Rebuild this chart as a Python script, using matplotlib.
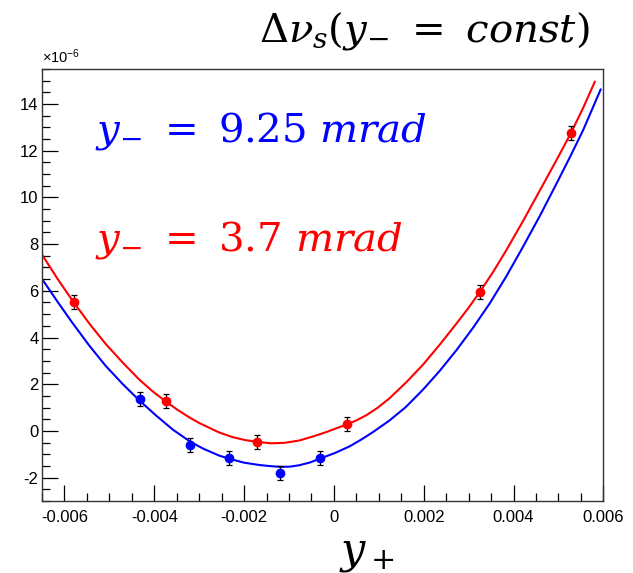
import matplotlib
matplotlib.use('Agg')
import matplotlib.pyplot as plt
from matplotlib.ticker import MultipleLocator, FuncFormatter

# measured points (delta nu_s in units of 1e-6)
y_plus_red = [-0.00578, -0.00374, -0.00172, 0.00029, 0.00325, 0.00528]
dnu_red = [5.50, 1.27, -0.48, 0.28, 5.94, 12.76]
err_red = [0.3, 0.3, 0.3, 0.3, 0.3, 0.3]

y_plus_blue = [-0.00432, -0.00321, -0.00233, -0.00119, -0.00030]
dnu_blue = [1.35, -0.61, -1.18, -1.80, -1.18]
err_blue = [0.3, 0.3, 0.3, 0.3, 0.3]

# fitted curves
fit_x_red = [-0.00649, -0.00615, -0.00580, -0.00544, -0.00508, -0.00470, -0.00433,
             -0.00404, -0.00375, -0.00348, -0.00322, -0.00299, -0.00255, -0.00225,
             -0.00198, -0.00171, -0.00140, -0.00110, -0.00077, -0.00047, -0.00017,
             0.00005, 0.00028, 0.00050, 0.00072, 0.00098, 0.00124, 0.00161,
             0.00199, 0.00236, 0.00273, 0.00299, 0.00325, 0.00355, 0.00384,
             0.00421, 0.00459, 0.00493, 0.00528, 0.00555, 0.00581]
fit_y_red = [7.52, 6.50, 5.52, 4.58, 3.72, 2.92, 2.19,
             1.70, 1.27, 0.90, 0.58, 0.33, -0.07, -0.27,
             -0.39, -0.47, -0.53, -0.51, -0.41, -0.24, -0.05,
             0.11, 0.27, 0.45, 0.67, 1.00, 1.40, 2.08,
             2.85, 3.70, 4.60, 5.25, 5.95, 6.82, 7.74,
             8.98, 10.31, 11.50, 12.76, 13.83, 14.95]

fit_x_blue = [-0.00649, -0.00615, -0.00582, -0.00545, -0.00508, -0.00470, -0.00433,
              -0.00396, -0.00359, -0.00320, -0.00290, -0.00255, -0.00233, -0.00200,
              -0.00166, -0.00140, -0.00119, -0.00098, -0.00077, -0.00053, -0.00030,
              0.00003, 0.00035, 0.00061, 0.00087, 0.00124, 0.00160, 0.00199,
              0.00236, 0.00273, 0.00310, 0.00347, 0.00384, 0.00421, 0.00459,
              0.00496, 0.00525, 0.00555, 0.00594]
fit_y_blue = [6.48, 5.52, 4.62, 3.66, 2.78, 2.00, 1.30,
              0.66, 0.06, -0.46, -0.77, -1.06, -1.19, -1.36,
              -1.46, -1.51, -1.54, -1.53, -1.47, -1.35, -1.18,
              -0.94, -0.66, -0.37, -0.05, 0.45, 1.02, 1.78,
              2.58, 3.46, 4.42, 5.46, 6.62, 7.88, 9.22,
              10.60, 11.70, 12.88, 14.62]

plt.rcParams['font.family'] = 'Liberation Sans'
plt.rcParams['mathtext.fontset'] = 'dejavuserif'
plt.rcParams['axes.unicode_minus'] = False

fig = plt.figure(figsize=(6.33, 5.73), dpi=100)
ax = fig.add_axes([0.0664, 0.1257, 0.8867, 0.7539])

ax.plot(fit_x_red, fit_y_red, color='#ff0000', lw=1.5, solid_joinstyle='round')
ax.plot(fit_x_blue, fit_y_blue, color='#0000ff', lw=1.5, solid_joinstyle='round')

ax.errorbar(y_plus_red, dnu_red, yerr=err_red, fmt='none', ecolor='black',
            elinewidth=0.9, capsize=2, capthick=0.9)
ax.errorbar(y_plus_blue, dnu_blue, yerr=err_blue, fmt='none', ecolor='black',
            elinewidth=0.9, capsize=2, capthick=0.9)
ax.plot(y_plus_red, dnu_red, 'o', color='#ff0000', ms=6, mec='#ff0000')
ax.plot(y_plus_blue, dnu_blue, 'o', color='#0000ff', ms=6, mec='#0000ff')

ax.set_xlim(-0.0065, 0.006)
ax.set_ylim(-3, 15.5)

ax.xaxis.set_major_locator(MultipleLocator(0.002))
ax.xaxis.set_minor_locator(MultipleLocator(0.0005))
ax.yaxis.set_major_locator(MultipleLocator(2))
ax.yaxis.set_minor_locator(MultipleLocator(0.5))
fmt = FuncFormatter(lambda v, p: '%g' % round(v, 6))
ax.xaxis.set_major_formatter(fmt)
ax.yaxis.set_major_formatter(fmt)

ax.tick_params(which='both', direction='in', top=False, right=False, labelsize=12)
ax.tick_params(which='major', length=11.5, width=0.9)
ax.tick_params(which='minor', length=5.8, width=0.9)
ax.tick_params(axis='x', pad=6.5)
ax.tick_params(axis='y', pad=2.5)
for s in ax.spines.values():
    s.set_color('#333333')
    s.set_linewidth(1.0)

# exponent marker of the y axis
fig.text(42 / 633, 1 - 63 / 573, '×10$^{\\mathregular{-6}}$', fontsize=10.5,
         ha='left', va='baseline')

fig.text(0.150, 1 - 142 / 573, r'$y_{-}\ =\ 9.25\ mrad$', color='#0000ff',
         fontsize=29, ha='left', va='baseline')
fig.text(0.150, 1 - 250 / 573, r'$y_{-}\ =\ 3.7\ mrad$', color='#ff0000',
         fontsize=29, ha='left', va='baseline')

fig.text(0.932, 1 - 42 / 573, r'$\Delta\nu_s(y_{-}\ =\ const)$',
         fontsize=29, ha='right', va='baseline')
fig.text(0.58, 1 - 562 / 573, r'$y_+$', fontsize=31, ha='center', va='baseline')

fig.savefig('out.png', dpi=100)
